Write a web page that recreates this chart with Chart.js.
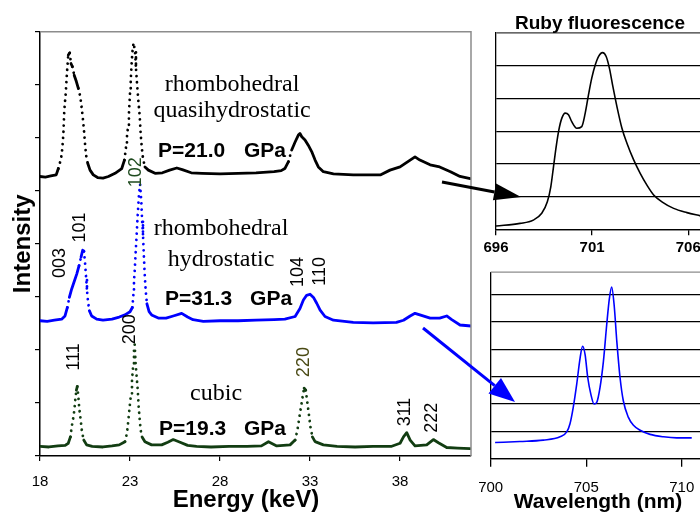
<!DOCTYPE html>
<html><head><meta charset="utf-8">
<script src="https://cdn.jsdelivr.net/npm/chart.js@4.4.1/dist/chart.umd.min.js"></script>
<style>
html,body{margin:0;padding:0;background:#fff;}
#wrap{position:relative;width:700px;height:512px;overflow:hidden;background:#fff;}
canvas{position:absolute;}
#main{left:0;top:0;z-index:3;}
#ins1{left:470px;top:0;z-index:1;}
#ins2{left:465px;top:262px;z-index:1;}
</style></head><body>
<div id="wrap">
<canvas id="ins1" width="250" height="262"></canvas>
<canvas id="ins2" width="255" height="250"></canvas>
<canvas id="main" width="700" height="512"></canvas>
</div>
<script>
// ---------- main diffraction patterns (energy keV, intensity offset units) ----------
const blackE = [18.0,18.3,18.6,18.9,19.02,19.17,19.24,19.30,19.35,19.43,19.50,19.57,19.65,19.72,19.80,19.90,20.02,20.13,20.24,20.31,20.37,20.44,20.50,20.56,20.65,20.78,20.96,21.2,21.5,21.8,22.17,22.54,22.69,22.78,22.83,22.89,22.94,23.00,23.04,23.09,23.15,23.20,23.28,23.33,23.39,23.46,23.54,23.59,23.65,23.72,23.83,24.02,24.39,24.8,25.2,25.6,25.9,26.4,27.0,28.0,29.0,30.0,31.0,31.4,31.6,31.8,31.98,32.17,32.35,32.44,32.54,32.72,32.90,33.09,33.28,33.46,33.74,34.3,35.4,36.9,37.44,38.0,38.56,38.83,39.1,39.67,40.2,40.8,41.33,41.9];
const blackI = [5.27,5.26,5.28,5.30,5.42,5.61,5.80,6.08,6.52,6.84,7.24,7.56,7.60,7.40,7.34,7.18,7.06,6.93,6.77,6.58,6.40,6.15,5.89,5.67,5.52,5.39,5.30,5.25,5.24,5.27,5.33,5.42,5.58,5.83,6.02,6.21,6.46,6.84,7.09,7.40,7.69,7.79,7.62,7.31,7.02,6.71,6.40,6.08,5.83,5.61,5.45,5.39,5.33,5.34,5.39,5.43,5.40,5.34,5.33,5.32,5.33,5.34,5.36,5.38,5.42,5.55,5.77,5.92,6.05,6.08,6.02,5.96,5.86,5.74,5.58,5.45,5.36,5.32,5.30,5.30,5.39,5.45,5.58,5.64,5.58,5.49,5.45,5.36,5.27,5.23];

const blueE = [18.0,18.4,18.8,19.2,19.39,19.52,19.63,19.76,19.91,20.04,20.17,20.28,20.37,20.44,20.50,20.56,20.61,20.67,20.74,20.87,21.15,21.5,22.0,22.4,22.72,23.0,23.13,23.19,23.22,23.26,23.31,23.37,23.43,23.50,23.56,23.63,23.67,23.72,23.76,23.81,23.87,23.94,24.06,24.2,24.57,25.0,25.4,25.87,26.2,26.5,27.07,28.0,29.0,30.0,31.0,31.6,32.17,32.44,32.63,32.81,33.0,33.19,33.37,33.56,33.83,34.3,35.4,36.5,37.8,38.19,38.56,38.83,39.1,39.67,40.2,40.59,40.87,41.33,41.98];
const blueI = [2.55,2.54,2.56,2.58,2.64,2.80,2.99,3.15,3.30,3.43,3.59,3.75,3.88,3.86,3.65,3.37,3.12,2.90,2.74,2.64,2.58,2.56,2.58,2.62,2.66,2.72,2.80,3.05,3.30,3.49,3.81,4.18,4.56,4.94,5.12,4.78,4.44,4.18,3.84,3.46,3.12,2.87,2.72,2.66,2.60,2.60,2.64,2.69,2.62,2.57,2.54,2.55,2.55,2.56,2.57,2.58,2.63,2.78,2.94,3.03,3.05,2.99,2.88,2.75,2.63,2.56,2.52,2.51,2.52,2.56,2.64,2.69,2.66,2.60,2.60,2.64,2.57,2.47,2.45];

const greenE = [18.0,18.5,19.0,19.4,19.57,19.69,19.76,19.83,19.91,19.96,20.02,20.07,20.13,20.18,20.26,20.33,20.43,20.59,20.9,21.5,22.0,22.4,22.72,22.83,22.91,22.98,23.06,23.11,23.17,23.22,23.26,23.31,23.37,23.43,23.48,23.54,23.59,23.67,23.83,24.2,24.76,25.1,25.4,25.78,26.2,26.7,27.5,28.5,29.5,30.3,30.69,31.15,31.89,32.17,32.30,32.41,32.50,32.59,32.67,32.76,32.83,32.93,33.02,33.13,33.28,33.74,34.5,35.5,36.5,37.5,38.0,38.19,38.37,38.56,38.83,39.48,39.85,40.13,40.59,41.2,41.89];
const greenI = [0.18,0.17,0.19,0.20,0.24,0.36,0.55,0.68,0.87,1.06,1.24,1.31,1.12,0.90,0.68,0.46,0.30,0.21,0.18,0.17,0.19,0.21,0.27,0.43,0.68,0.93,1.18,1.43,1.68,2.00,2.10,1.75,1.49,1.24,0.93,0.68,0.49,0.36,0.27,0.21,0.21,0.26,0.31,0.26,0.20,0.18,0.17,0.18,0.18,0.19,0.27,0.19,0.21,0.30,0.49,0.74,0.93,1.12,1.28,1.24,1.06,0.80,0.55,0.36,0.27,0.21,0.18,0.17,0.18,0.18,0.24,0.36,0.44,0.30,0.19,0.21,0.31,0.25,0.16,0.15,0.14];

const energyTicks = [18,23,28,33,38];
const intensityTicks = [0,1,2,3,4,5,6,7,8];

// peak indices (rotated labels)
const peakLabels = ['003','101','102','200','111','104','110','220','311','222'];
const peakE = [19.14,20.25,23.31,23.0,19.89,32.31,33.53,32.69,38.28,39.75];
const peakI = [3.64,4.31,5.35,2.39,1.87,3.47,3.48,1.77,0.83,0.72];
const peakColors = ['#000','#000','#1e4a1e','#000','#000','#000','#000','#4a4a14','#000','#000'];

// phase descriptions
const phaseText = ['rhombohedral','quasihydrostatic','rhombohedral','hydrostatic','cubic'];
const phaseE = [28.67,28.67,28.06,28.06,27.78];
const phaseI = [6.88,6.40,4.17,3.58,1.06];
const pressText = ['P=21.0','GPa','P=31.3','GPa','P=19.3','GPa'];
const pressE = [24.56,29.33,24.94,29.67,24.61,29.33];
const pressI = [5.64,5.64,2.85,2.85,0.39,0.39];

// ---------- ruby fluorescence insets ----------
const ruby1Wl = [696.0,697.25,697.94,698.38,698.67,698.85,698.99,699.13,699.27,699.42,699.6,699.77,699.94,700.2,700.46,700.64,700.81,700.98,701.16,701.33,701.54,701.73,701.9,702.08,702.29,702.55,702.81,703.16,703.5,703.85,704.2,704.63,705.24,705.93,706.63];
const ruby1I = [0.10,0.18,0.28,0.49,0.84,1.30,1.91,2.53,3.04,3.39,3.55,3.50,3.29,3.09,3.14,3.55,4.11,4.62,5.02,5.28,5.40,5.28,4.92,4.36,3.75,3.09,2.63,2.12,1.71,1.35,1.05,0.84,0.64,0.51,0.41];
const ruby1Ticks = [696,701,706];

const ruby2Wl = [700.23,701.53,702.75,703.63,703.98,704.15,704.32,704.5,704.68,704.81,704.94,705.08,705.24,705.41,705.55,705.72,705.9,706.07,706.21,706.33,706.46,706.6,706.77,706.94,707.2,707.47,707.82,708.34,709.04,709.74,710.52];
const ruby2I = [0.59,0.63,0.68,0.80,0.98,1.28,1.88,2.72,3.69,4.11,3.81,2.96,2.36,2.00,2.06,2.60,3.57,4.89,5.85,6.28,5.62,4.29,2.96,2.12,1.52,1.22,1.04,0.89,0.80,0.76,0.76];
const ruby2Ticks = [700,705,710];
const insetGridTicks = [0,1,2,3,4,5,6];

// ------------------------------------------------------------------
Chart.defaults.font.family = "'Liberation Sans', Arial, sans-serif";
Chart.defaults.color = '#000';
const SERIF = "'Liberation Serif', 'Times New Roman', serif";
const pts = (xs, ys) => xs.map((x, i) => ({x, y: ys[i]}));
const steep = c => Math.abs(c.p1.y - c.p0.y) > 2.5 * Math.abs(c.p1.x - c.p0.x) + 3;

function series(xs, ys, color) {
  return {
    data: pts(xs, ys), showLine: true, borderColor: color, backgroundColor: color,
    borderWidth: 2.8, pointRadius: 0, borderCapStyle: 'round', borderJoinStyle: 'round',
    segment: { borderDash: c => steep(c) ? [0.01, 6.2] : undefined }
  };
}

const mainDeco = {
  id: 'mainDeco',
  afterDraw(chart) {
    const {ctx, chartArea: a, scales: {x, y}} = chart;
    ctx.save();
    ctx.strokeStyle = '#8c8c8c'; ctx.lineWidth = 1.5;
    ctx.beginPath(); ctx.moveTo(a.left, a.top); ctx.lineTo(a.right, a.top); ctx.lineTo(a.right, a.bottom); ctx.stroke();

    // phase texts
    ctx.fillStyle = '#000';
    ctx.font = '24px ' + SERIF; ctx.textAlign = 'center'; ctx.textBaseline = 'alphabetic';
    phaseText.forEach((t, i) => ctx.fillText(t, x.getPixelForValue(phaseE[i]), y.getPixelForValue(phaseI[i])));
    ctx.font = 'bold 21px "Liberation Sans"'; ctx.textAlign = 'left';
    pressText.forEach((t, i) => ctx.fillText(t, x.getPixelForValue(pressE[i]), y.getPixelForValue(pressI[i])));

    // peak labels
    ctx.font = '18px "Liberation Sans"'; ctx.textAlign = 'center'; ctx.textBaseline = 'middle';
    peakLabels.forEach((t, i) => {
      ctx.save();
      ctx.translate(x.getPixelForValue(peakE[i]), y.getPixelForValue(peakI[i]));
      ctx.rotate(-Math.PI / 2);
      ctx.fillStyle = peakColors[i];
      ctx.fillText(t, 0, 0);
      ctx.restore();
    });

    // axis titles
    ctx.fillStyle = '#000';
    ctx.font = 'bold 24px "Liberation Sans"'; ctx.textAlign = 'center'; ctx.textBaseline = 'alphabetic';
    ctx.fillText('Energy (keV)', a.left + 206, a.bottom + 51);
    ctx.save();
    ctx.translate(a.left - 17, (a.top + a.bottom) / 2);
    ctx.rotate(-Math.PI / 2);
    ctx.textBaseline = 'middle';
    ctx.fillText('Intensity', 0, 0);
    ctx.restore();

    // arrows
    arrow(ctx, 442, 182, 521, 197, '#000', 3, 27, 8.5);
    arrow(ctx, 423, 328, 515, 402, '#0000ff', 3, 26, 10);
    ctx.restore();
  }
};

function arrow(ctx, x0, y0, x1, y1, color, w, hl, hw) {
  const ang = Math.atan2(y1 - y0, x1 - x0);
  const bx = x1 - hl * Math.cos(ang), by = y1 - hl * Math.sin(ang);
  ctx.strokeStyle = color; ctx.fillStyle = color; ctx.lineWidth = w;
  ctx.beginPath(); ctx.moveTo(x0, y0); ctx.lineTo(bx, by); ctx.stroke();
  ctx.beginPath();
  ctx.moveTo(x1, y1);
  ctx.lineTo(bx + hw * Math.sin(ang), by - hw * Math.cos(ang));
  ctx.lineTo(bx - hw * Math.sin(ang), by + hw * Math.cos(ang));
  ctx.closePath(); ctx.fill();
}

new Chart(document.getElementById('main'), {
  type: 'scatter',
  data: { datasets: [series(blackE, blackI, '#000'), series(blueE, blueI, '#0000ff'), series(greenE, greenI, '#123d12')] },
  options: {
    responsive: false, animation: false, devicePixelRatio: 1,
    layout: { padding: { top: 31.7, right: 229, left: 0, bottom: 0 } },
    plugins: { legend: { display: false }, tooltip: { enabled: false } },
    scales: {
      x: {
        type: 'linear', min: 18, max: 41.94,
        afterBuildTicks: s => { s.ticks = energyTicks.map(v => ({value: v})); },
        afterFit: s => { s.height = 56; },
        grid: { drawOnChartArea: false, drawTicks: true, tickLength: 5, color: '#000', lineWidth: 1.2 },
        border: { display: true, color: '#000', width: 1.5 },
        ticks: { font: { size: 15 }, color: '#000', padding: 12, maxRotation: 0, autoSkip: false }
      },
      y: {
        type: 'linear', min: 0, max: 8,
        afterBuildTicks: s => { s.ticks = intensityTicks.map(v => ({value: v})); },
        afterFit: s => { s.width = 40; },
        grid: { drawOnChartArea: false, drawTicks: true, tickLength: 5, color: '#000', lineWidth: 1.2 },
        border: { display: true, color: '#000', width: 1.5 },
        ticks: { callback: () => '' }
      }
    }
  },
  plugins: [mainDeco]
});

function insetDeco(title, titleX, titleY, xTitle, xTitleX, xTitleY) {
  return {
    id: 'insetDeco',
    afterDraw(chart) {
      const {ctx, chartArea: a} = chart;
      ctx.save();
      ctx.strokeStyle = '#8c8c8c'; ctx.lineWidth = 1.3;
      ctx.beginPath(); ctx.moveTo(a.left, a.top); ctx.lineTo(a.right, a.top); ctx.stroke();
      ctx.fillStyle = '#000'; ctx.textAlign = 'center'; ctx.textBaseline = 'alphabetic';
      if (title) { ctx.font = 'bold 19px "Liberation Sans"'; ctx.fillText(title, titleX, titleY); }
      if (xTitle) { ctx.font = 'bold 21px "Liberation Sans"'; ctx.fillText(xTitle, xTitleX, xTitleY); }
      ctx.restore();
    }
  };
}

function inset(id, xs, ys, color, xmin, xmax, ymax, xticks, padTop, yW, xH, tickLen, tickPad, bold, deco) {
  new Chart(document.getElementById(id), {
    type: 'scatter',
    data: { datasets: [{ data: pts(xs, ys), showLine: true, borderColor: color, borderWidth: 1.6, pointRadius: 0, cubicInterpolationMode: 'monotone' }] },
    options: {
      responsive: false, animation: false, devicePixelRatio: 1,
      layout: { padding: { top: padTop, right: 0, left: 0, bottom: 0 } },
      plugins: { legend: { display: false }, tooltip: { enabled: false } },
      scales: {
        x: {
          type: 'linear', min: xmin, max: xmax,
          afterBuildTicks: s => { s.ticks = xticks.map(v => ({value: v})); },
          afterFit: s => { s.height = xH; },
          grid: { drawOnChartArea: false, drawTicks: true, tickLength: tickLen, color: '#000', lineWidth: 1.3 },
          border: { display: true, color: '#000', width: 1.3 },
          ticks: { font: { size: 15, weight: bold ? 'bold' : 'normal' }, color: '#000', padding: tickPad, maxRotation: 0, autoSkip: false }
        },
        y: {
          type: 'linear', min: 0, max: ymax,
          afterBuildTicks: s => { s.ticks = insetGridTicks.map(v => ({value: v})); },
          afterFit: s => { s.width = yW; },
          grid: { drawTicks: false, color: '#000', lineWidth: 1.2 },
          border: { display: true, color: '#000', width: 1.3 },
          ticks: { callback: () => '' }
        }
      }
    },
    plugins: [deco]
  });
}

inset('ins1', ruby1Wl, ruby1I, '#000', 696, 707.65, 6, ruby1Ticks, 33, 26, 32.7, 6, 4, true,
      insetDeco('Ruby fluorescence', 130, 29, null));
inset('ins2', ruby2Wl, ruby2I, '#0000ff', 700, 712.0, 6.82, ruby2Ticks, 8, 25.7, 53.3, 8, 12, false,
      insetDeco(null, 0, 0, 'Wavelength (nm)', 133, 246));
</script>
</body></html>
